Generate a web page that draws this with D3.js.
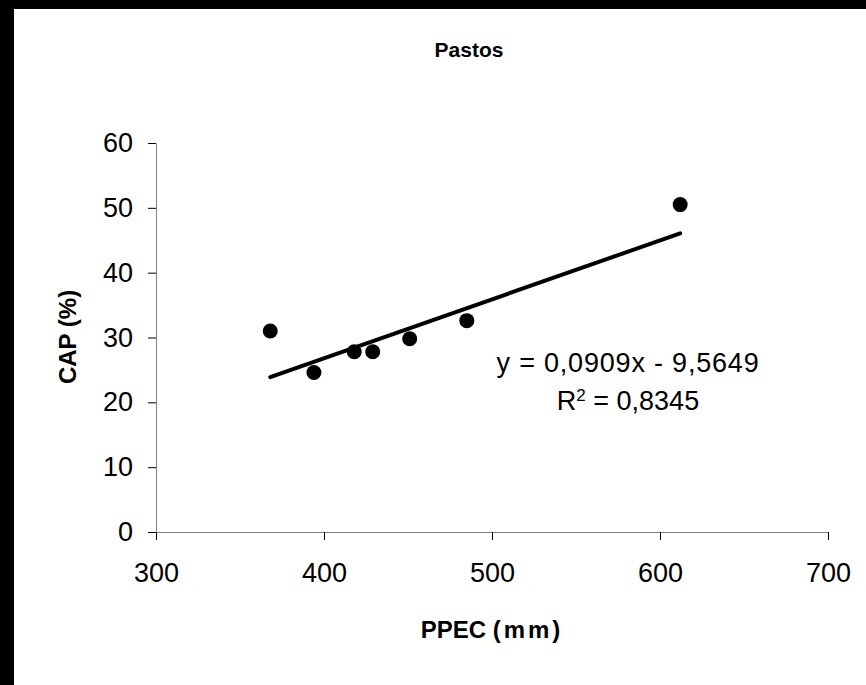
<!DOCTYPE html>
<html>
<head>
<meta charset="utf-8">
<script src="https://cdn.jsdelivr.net/npm/d3@7"></script>
<style>
  body { margin: 0; background: #fff; overflow: hidden; }
  svg { display: block; font-family: "Liberation Sans", Arial, sans-serif; }
</style>
</head>
<body>
<svg id="chart" width="866" height="685"></svg>
<script>
// data
const ppec = [368, 394, 418, 429, 451, 485, 612];
const cap = [31.0, 24.6, 27.8, 27.8, 29.8, 32.6, 50.5];
const xTicks = [300, 400, 500, 600, 700];
const yTicks = [0, 10, 20, 30, 40, 50, 60];
const slope = 0.0909, intercept = -9.5649;
const eqText = "y = 0,0909x - 9,5649";
const r2Text = "0,8345";

const svg = d3.select("#chart");

// white page, black strips on left and top
svg.append("rect").attr("width", 866).attr("height", 685).attr("fill", "#fff");
svg.append("rect").attr("width", 14).attr("height", 685).attr("fill", "#000");
svg.append("rect").attr("width", 866).attr("height", 9).attr("fill", "#000");

let x = d3.scaleLinear().domain([300, 700]).range([156, 828]);
let y = d3.scaleLinear().domain([0, 60]).range([532, 143]);

// axes
const gx = svg.append("g")
  .attr("transform", "translate(0,532)")
  .call(d3.axisBottom(x).tickValues(xTicks).tickSize(8).tickSizeOuter(0).tickPadding(23));

const gy = svg.append("g")
  .attr("transform", "translate(156,0)")
  .call(d3.axisLeft(y).tickValues(yTicks).tickSize(8).tickSizeOuter(0).tickPadding(15));

[gx, gy].forEach(g => {
  g.select(".domain").attr("stroke", "#808080");
  g.selectAll(".tick line").attr("stroke", "#000");
  g.selectAll(".tick text")
    .attr("fill", "#000")
    .style("font-size", "27px")
    .style("font-family", "Liberation Sans, Arial, sans-serif");
});

// trend line
const x0 = d3.min(ppec), x1 = d3.max(ppec);
svg.append("line")
  .attr("x1", x(x0)).attr("y1", y(slope * x0 + intercept))
  .attr("x2", x(x1)).attr("y2", y(slope * x1 + intercept))
  .attr("stroke", "#000")
  .attr("stroke-width", 4)
  .attr("stroke-linecap", "round");

// points
svg.selectAll("circle.pt")
  .data(ppec.map((d, i) => ({x: d, y: cap[i]})))
  .enter()
  .append("circle")
  .attr("class", "pt")
  .attr("cx", d => x(d.x))
  .attr("cy", d => y(d.y))
  .attr("r", 7.5)
  .attr("fill", "#000");

// title
svg.append("text")
  .attr("x", 469).attr("y", 57)
  .attr("text-anchor", "middle")
  .style("font-weight", "bold")
  .style("font-size", "21px")
  .text("Pastos");

// axis titles
const xl = svg.append("text")
  .attr("x", 492).attr("y", 638)
  .attr("text-anchor", "middle")
  .style("font-weight", "bold")
  .style("font-size", "24px");
xl.append("tspan").text("PPEC ");
xl.append("tspan").style("letter-spacing", "3px").text("(mm)");

svg.append("text")
  .attr("transform", "translate(76,337) rotate(-90)")
  .attr("text-anchor", "middle")
  .style("font-weight", "bold")
  .style("font-size", "24px")
  .text("CAP (%)");

// equation
svg.append("text")
  .attr("x", 628).attr("y", 372)
  .attr("text-anchor", "middle")
  .style("font-size", "27px")
  .style("letter-spacing", "0.8px")
  .text(eqText);

const r2 = svg.append("text")
  .attr("x", 628).attr("y", 410)
  .attr("text-anchor", "middle")
  .style("font-size", "27px");
r2.append("tspan").text("R");
r2.append("tspan").attr("dy", -9).style("font-size", "17px").text("2");
r2.append("tspan").attr("dy", 9).text(" = " + r2Text);
</script>
</body>
</html>
